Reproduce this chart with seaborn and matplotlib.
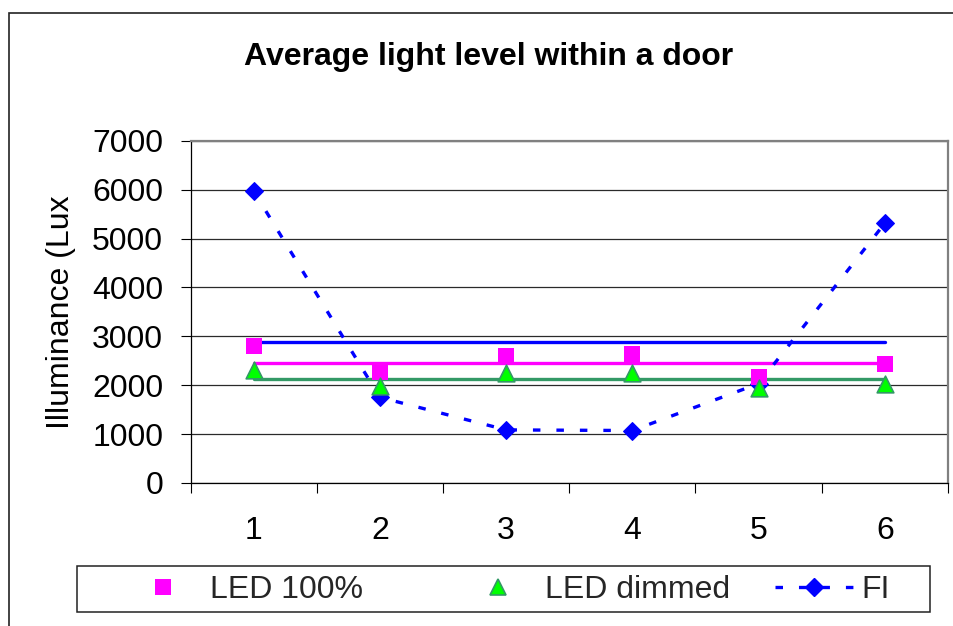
import matplotlib
matplotlib.use("Agg")
import matplotlib.pyplot as plt
import seaborn as sns
import pandas as pd
from matplotlib.lines import Line2D
from matplotlib.patches import Rectangle

# ---- data ----
positions = [1, 2, 3, 4, 5, 6]
led_100 = [2810, 2265, 2600, 2638, 2168, 2424]
led_dimmed = [2321, 1986, 2244, 2244, 1940, 2026]
fl = [5970, 1752, 1086, 1073, 2032, 5314]
avg_fl = 2882
avg_led_100 = 2462
avg_led_dimmed = 2118
y_ticks = [0, 1000, 2000, 3000, 4000, 5000, 6000, 7000]
title = "Average light level within a door"
y_label = "Illuminance (Lux"
legend_labels = ["LED 100%", "LED dimmed", "FI"]

sns.set_theme(style="white")
plt.rcParams["font.family"] = ["Liberation Sans", "DejaVu Sans"]
plt.rcParams["lines.scale_dashes"] = False

MAGENTA = "#FF00FF"
BLUE = "#0000FF"
GREEN_FILL = "#00FF00"
GREEN_EDGE = "#339966"
FS = 23

W, H = 954, 626
fig = plt.figure(figsize=(W / 100, H / 100), dpi=100)
fig.patch.set_facecolor("white")

left, right, top, bottom = 190.5, 948, 140.7, 483
ax = fig.add_axes([left / W, 1 - bottom / H, (right - left) / W, (bottom - top) / H])

df = pd.DataFrame({"pos": positions, "led100": led_100, "dim": led_dimmed, "fl": fl})
ends = [positions[0], positions[-1]]

# average lines
sns.lineplot(x=ends, y=[avg_fl] * 2, ax=ax, color=BLUE, lw=2.4, zorder=2)
sns.lineplot(x=ends, y=[avg_led_100] * 2, ax=ax, color=MAGENTA, lw=2.4, zorder=2)
sns.lineplot(x=ends, y=[avg_led_dimmed] * 2, ax=ax, color=GREEN_EDGE, lw=2.4, zorder=2)

dash = (0, (5.4, 11.5))
sns.lineplot(data=df, x="pos", y="fl", ax=ax, color=BLUE, lw=2.4, linestyle=dash,
             marker="D", markersize=9.2, markeredgecolor=BLUE, markerfacecolor=BLUE, zorder=3)
sns.scatterplot(data=df, x="pos", y="led100", ax=ax, marker="s", s=11.5 ** 2,
                color=MAGENTA, edgecolor=MAGENTA, linewidth=0, zorder=4)
sns.scatterplot(data=df, x="pos", y="dim", ax=ax, marker="^", s=12 ** 2,
                color=GREEN_FILL, edgecolor=GREEN_EDGE, linewidth=1.2, zorder=4)

ax.set_xlim(0.5, 6.5)
ax.set_ylim(0, 7000)
ax.set_xlabel("")
ax.set_ylabel(y_label, fontsize=FS, labelpad=11.5, color="black")

# y axis
ax.set_yticks(y_ticks)
ax.set_yticklabels([str(v) for v in y_ticks])
ax.tick_params(axis="y", which="major", direction="out", length=7.2, width=0.8,
               color="black", pad=12.5, labelsize=FS, labelcolor="black", left=True)
ax.yaxis.grid(True, color="#2a2a2a", lw=0.9)
ax.xaxis.grid(False)

# x axis: boundary ticks (major) and centered labels (minor)
ax.set_xticks([p - 0.5 for p in positions] + [positions[-1] + 0.5])
ax.set_xticklabels([])
ax.set_xticks(positions, minor=True)
ax.set_xticklabels([str(p) for p in positions], minor=True)
ax.tick_params(axis="x", which="major", direction="out", length=7.2, width=0.8,
               color="black", bottom=True)
ax.tick_params(axis="x", which="minor", length=0, pad=23.5, labelsize=FS,
               labelcolor="black", bottom=True)

for s in ["left", "bottom"]:
    ax.spines[s].set_color("black")
    ax.spines[s].set_linewidth(0.9)
for s in ["top", "right"]:
    ax.spines[s].set_color("#808080")
    ax.spines[s].set_linewidth(1.6)
    ax.spines[s].set_visible(True)
ax.set_axisbelow(True)

# title
fig.text(489 / W, 1 - 65 / H, title, ha="center", va="baseline",
         fontsize=FS, fontweight="bold", color="black")

# outer chart frame (extends beyond the image on right and bottom)
fig.add_artist(Rectangle((9 / W, -0.5), 2.0, (1 - 13 / H) + 0.5, transform=fig.transFigure,
                         fill=False, edgecolor="#222222", lw=1.2))
# legend frame
fig.add_artist(Rectangle((77 / W, 1 - 612 / H), (930 - 77) / W, (612 - 566) / H,
                         transform=fig.transFigure, fill=False, edgecolor="#222222", lw=1.1))

handles = [
    Line2D([], [], marker="s", linestyle="none", markersize=11.5,
           markerfacecolor=MAGENTA, markeredgecolor=MAGENTA, markeredgewidth=0),
    Line2D([], [], marker="^", linestyle="none", markersize=12,
           markerfacecolor=GREEN_FILL, markeredgecolor=GREEN_EDGE, markeredgewidth=1.2),
    Line2D([], [], marker="D", linestyle=dash, lw=2.4, color=BLUE, markersize=9.2,
           markerfacecolor=BLUE, markeredgecolor=BLUE),
]
starts = [124.5, 459, 775]
for h, lab, x0 in zip(handles, legend_labels, starts):
    fig.legend([h], [lab], loc="center left", bbox_to_anchor=(x0 / W, 1 - 590 / H),
               frameon=False, borderpad=0, borderaxespad=0, handlelength=2.44,
               handletextpad=0.25, fontsize=FS, numpoints=1)

fig.savefig("out.png", dpi=100, facecolor="white")
